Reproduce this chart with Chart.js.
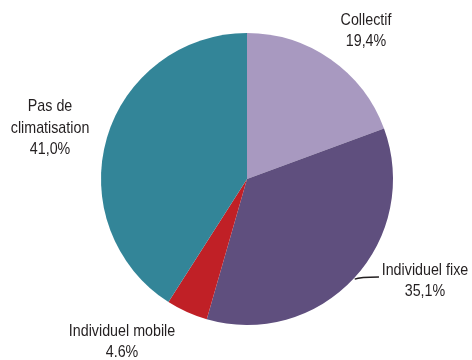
<!DOCTYPE html>
<html>
<head>
<meta charset="utf-8">
<script src="https://cdn.jsdelivr.net/npm/chart.js@4"></script>
<style>
  html, body { margin: 0; padding: 0; background: #fff; }
  #wrap { width: 472px; height: 360px; position: relative; }
</style>
</head>
<body>
<div id="wrap"><canvas id="pieChart"></canvas></div>
<script>
// Share of households by type of air conditioning
const categories = ["Collectif", "Individuel fixe", "Individuel mobile", "Pas de climatisation"];
const shares = [19.4, 35.1, 4.6, 41.0];
const shareLabels = ["19,4%", "35,1%", "4.6%", "41,0%"];
const labelLines = [["Collectif"], ["Individuel fixe"], ["Individuel mobile"], ["Pas de", "climatisation"]];
const sliceColors = ["#a899c0", "#5f4f7e", "#c02026", "#338598"];

/* label anchor, relative to the pie centre, in radius units */
const labelAnchors = [[0.815, -1.014], [1.219, 0.699], [-0.856, 1.116], [-1.349, -0.349]];

const FONT = '"Liberation Sans", Arial, sans-serif';
const SQUEEZE = 0.84; // condensed look

const labelPlugin = {
  id: "sliceLabels",
  afterDraw(chart) {
    const ctx = chart.ctx;
    const arcs = chart.getDatasetMeta(0).data;
    if (!arcs.length) return;
    const cx = arcs[0].x, cy = arcs[0].y, r = arcs[0].outerRadius;
    ctx.save();
    ctx.fillStyle = "#231f20";
    ctx.font = "17px " + FONT;
    ctx.textAlign = "center";
    ctx.textBaseline = "middle";
    const lh = 21.5;
    categories.forEach((c, i) => {
      const lines = labelLines[i].concat([shareLabels[i]]);
      const x = cx + labelAnchors[i][0] * r;
      const y = cy + labelAnchors[i][1] * r;
      const top = y - (lines.length - 1) * lh / 2;
      lines.forEach((t, k) => {
        ctx.save();
        ctx.translate(x, top + k * lh);
        ctx.scale(SQUEEZE, 1);
        ctx.fillText(t, 0, 0);
        ctx.restore();
      });
    });

    // leader line for "Individuel fixe"
    const a = arcs[1];
    const ang = (a.startAngle + a.endAngle) / 2;
    const ex = cx + Math.cos(ang) * (r + 1);
    const ey = cy + Math.sin(ang) * (r + 1);
    const lx = cx + 0.904 * r, ly = cy + 0.671 * r;
    ctx.strokeStyle = "#231f20";
    ctx.lineWidth = 1.4;
    ctx.beginPath();
    ctx.moveTo(ex, ey);
    ctx.quadraticCurveTo(ex + 5, ey - 2, lx, ly);
    ctx.stroke();
    ctx.restore();
  }
};

new Chart(document.getElementById("pieChart"), {
  type: "pie",
  data: {
    labels: categories,
    datasets: [{
      data: shares,
      backgroundColor: sliceColors,
      borderWidth: 0
    }]
  },
  options: {
    responsive: true,
    maintainAspectRatio: false,
    animation: false,
    layout: { padding: { top: 33, bottom: 35, left: 101, right: 79 } },
    plugins: {
      legend: { display: false },
      tooltip: { enabled: false }
    }
  },
  plugins: [labelPlugin]
});
</script>
</body>
</html>
